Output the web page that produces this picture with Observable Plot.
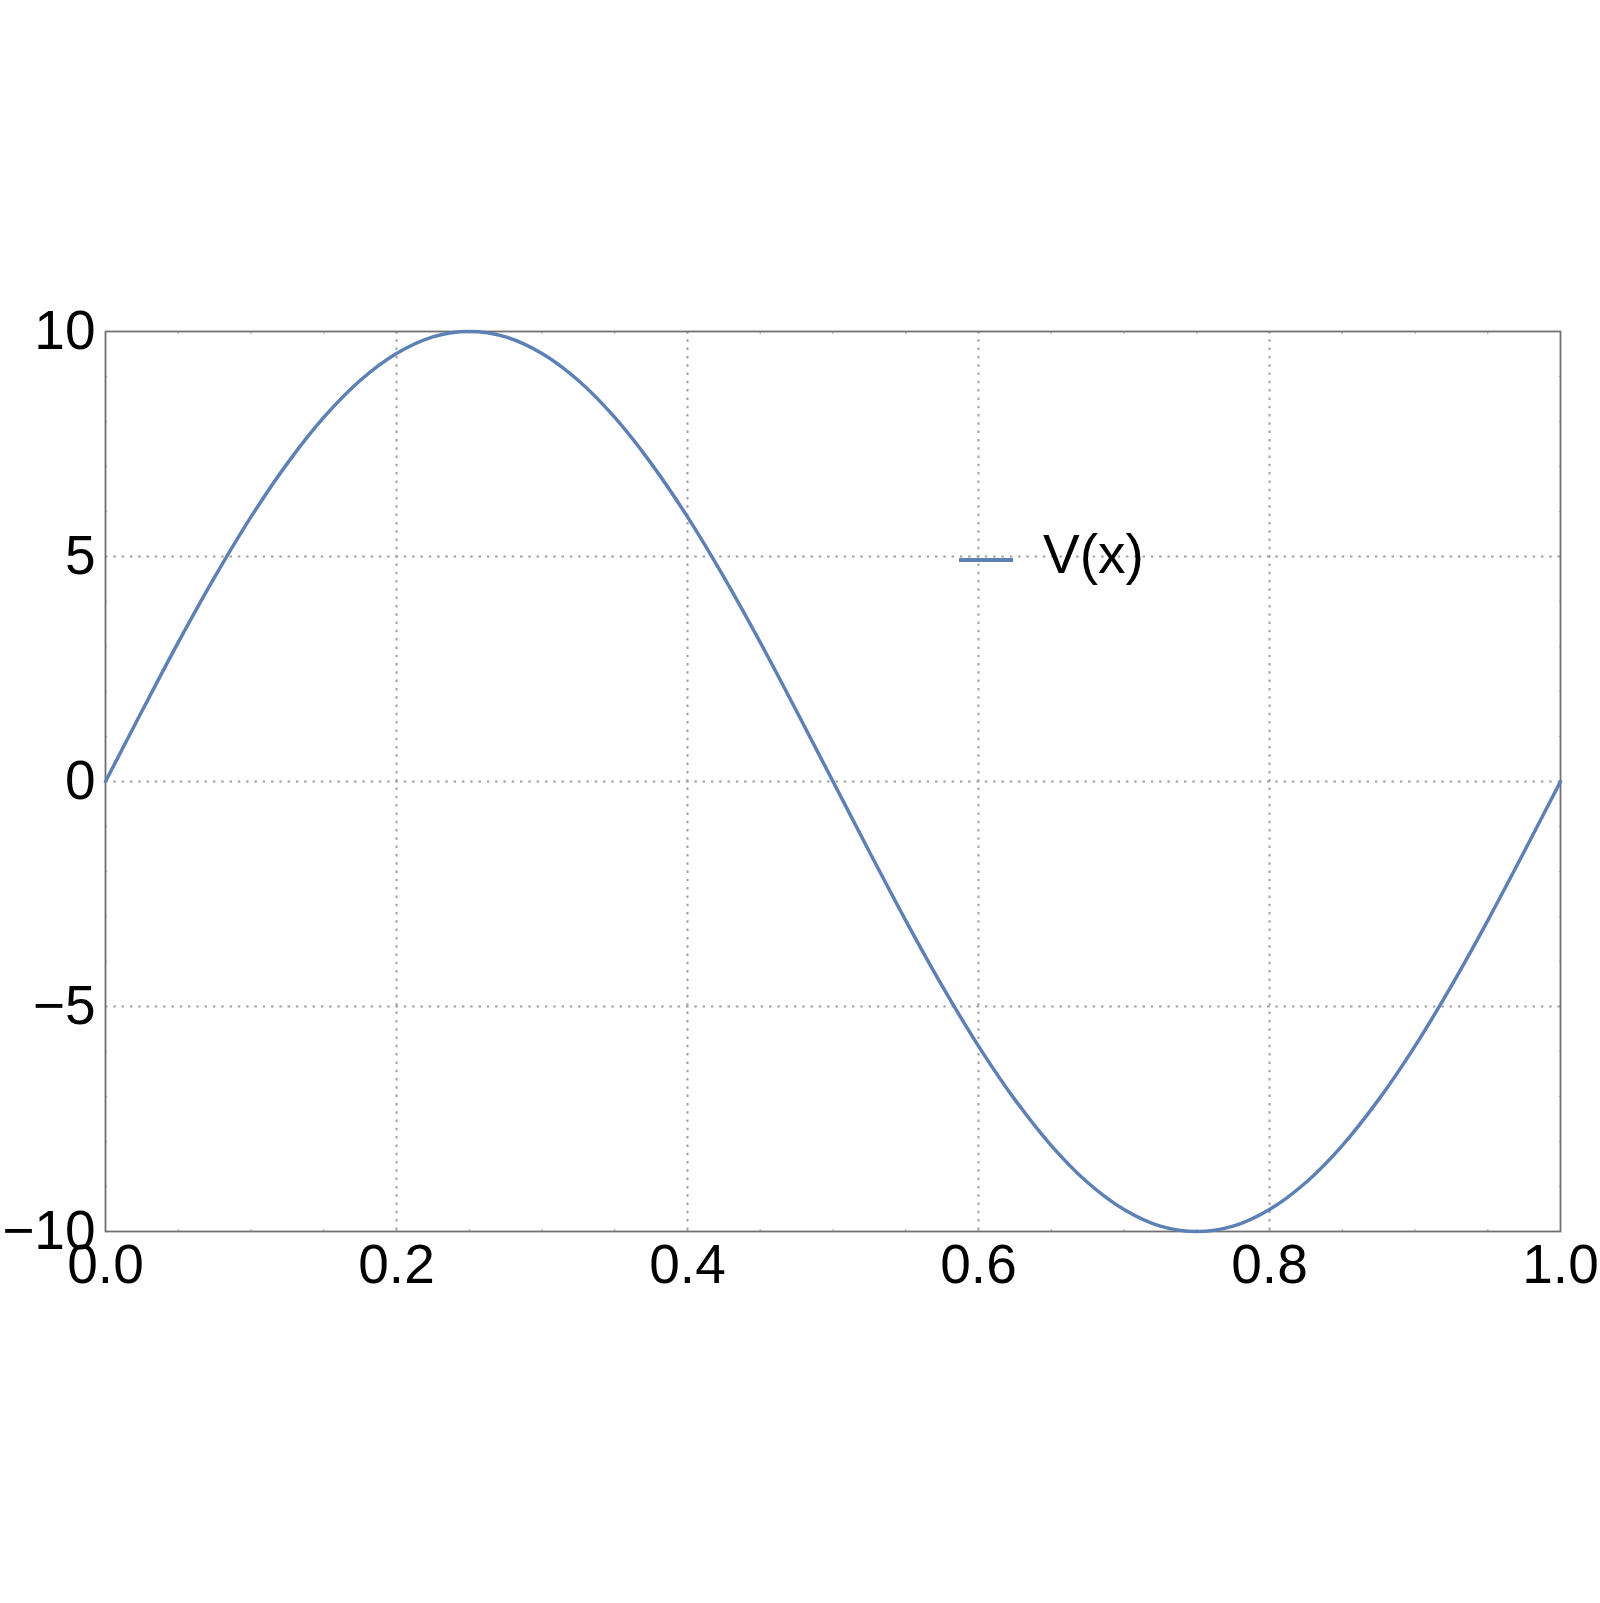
<!DOCTYPE html>
<html>
<head>
<meta charset="utf-8">
<script src="https://cdn.jsdelivr.net/npm/d3@7"></script>
<script src="https://cdn.jsdelivr.net/npm/@observablehq/plot@0.6"></script>
<style>
  html, body { margin: 0; padding: 0; background: white; }
  #wrap { position: relative; width: 1600px; height: 1603px; }
  #legend { position: absolute; left: 959px; top: 522px; display: flex; align-items: center;
            font-family: "Liberation Sans", Arial, sans-serif; font-size: 55px; color: black; }
  #legend .sw { width: 54px; height: 3.5px; background: #5E81B5; margin-right: 30px; margin-top: 12px; }
</style>
</head>
<body>
<div id="wrap"><div id="legend"><div class="sw"></div><span>V(x)</span></div></div>
<script>
// Data
const xs = [0, 0.025, 0.05, 0.075, 0.1, 0.125, 0.15, 0.175, 0.2, 0.225, 0.25,
            0.275, 0.3, 0.325, 0.35, 0.375, 0.4, 0.425, 0.45, 0.475, 0.5,
            0.525, 0.55, 0.575, 0.6, 0.625, 0.65, 0.675, 0.7, 0.725, 0.75,
            0.775, 0.8, 0.825, 0.85, 0.875, 0.9, 0.925, 0.95, 0.975, 1];
const vs = [0, 1.56, 3.09, 4.54, 5.88, 7.07, 8.09, 8.91, 9.51, 9.88, 10,
            9.88, 9.51, 8.91, 8.09, 7.07, 5.88, 4.54, 3.09, 1.56, 0,
            -1.56, -3.09, -4.54, -5.88, -7.07, -8.09, -8.91, -9.51, -9.88, -10,
            -9.88, -9.51, -8.91, -8.09, -7.07, -5.88, -4.54, -3.09, -1.56, 0];
const xTicks = [0, 0.2, 0.4, 0.6, 0.8, 1.0];
const yTicks = [-10, -5, 0, 5, 10];
const xMinor = [0, 0.05, 0.1, 0.15, 0.2, 0.25, 0.3, 0.35, 0.4, 0.45, 0.5, 0.55, 0.6, 0.65, 0.7, 0.75, 0.8, 0.85, 0.9, 0.95, 1];
const yMinor = [-10, -9, -8, -7, -6, -5, -4, -3, -2, -1, 0, 1, 2, 3, 4, 5, 6, 7, 8, 9, 10];
const seriesName = "V(x)";

const data = xs.map((x, i) => ({x, v: vs[i]}));
const gridStyle = {stroke: "#a0a0a0", strokeOpacity: 1, strokeWidth: 2, strokeDasharray: "2.5,5.8"};

const chart = Plot.plot({
  width: 1600,
  height: 1603,
  marginLeft: 105,
  marginRight: 40,
  marginTop: 331,
  marginBottom: 372,
  style: {fontFamily: "Liberation Sans, Arial, sans-serif", fontSize: "55px", color: "black", background: "white", overflow: "visible"},
  x: {domain: [0, 1]},
  y: {domain: [-10, 10]},
  marks: [
    Plot.gridX(xTicks.slice(1, -1), gridStyle),
    Plot.gridY(yTicks.slice(1, -1), gridStyle),
    Plot.axisX({ticks: xMinor, tickSize: -2, tickFormat: () => "", stroke: "#aaa", label: null}),
    Plot.axisX({ticks: xMinor, anchor: "top", tickSize: -2, tickFormat: () => "", stroke: "#aaa", label: null}),
    Plot.axisY({ticks: yMinor, tickSize: -2, tickFormat: () => "", stroke: "#aaa", label: null}),
    Plot.axisY({ticks: yMinor, anchor: "right", tickSize: -2, tickFormat: () => "", stroke: "#aaa", label: null}),
    Plot.axisX({ticks: xTicks, tickSize: 0, tickPadding: 12, tickFormat: d3.format(".1f"), fontSize: 55, label: null}),
    Plot.axisY({ticks: yTicks, tickSize: 0, tickPadding: 10, fontSize: 55, label: null}),
    Plot.frame({stroke: "#707070", strokeWidth: 1.8}),
    Plot.line(data, {x: "x", y: "v", stroke: "#5E81B5", strokeWidth: 3.5, curve: "catmull-rom", title: () => seriesName})
  ]
});
document.getElementById("wrap").prepend(chart);
</script>
</body>
</html>
